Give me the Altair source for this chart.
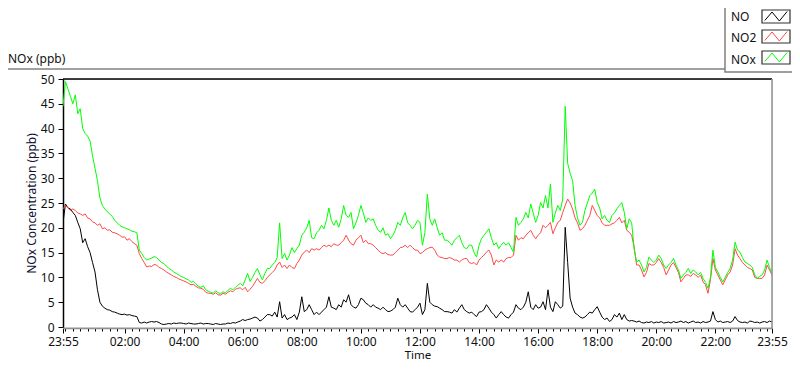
import altair as alt
import pandas as pd
import numpy as np

# ---------------- data (5-minute samples from 23:55 to 23:55) ----------------
step_minutes = 5

nox_vals = [
    44.5, 49.5, 48.0, 46.5, 45.0, 46.8, 43.0, 44.0, 40.0, 39.0, 38.5, 37.5,
    34.5, 32.0, 29.5, 26.0, 24.5, 23.8, 23.2, 22.8, 22.3, 21.5, 21.0, 20.5,
    20.2, 20.0, 19.8, 19.6, 19.3, 19.2, 19.0, 15.5, 14.8, 14.0, 13.5, 13.7,
    13.9, 14.2, 14.0, 13.5, 13.0, 12.8, 12.3, 11.8, 11.5, 11.1, 10.8, 10.5,
    10.2, 10.0, 9.7, 9.5, 9.0, 9.2, 8.7, 8.2, 8.0, 8.3, 7.5, 7.2,
    7.0, 6.8, 7.3, 6.9, 6.7, 7.1, 6.9, 7.4, 7.8, 7.5, 8.0, 8.4,
    8.8, 8.3, 9.5, 10.8, 9.2, 10.0, 11.0, 11.8, 10.5, 9.5, 10.8, 11.8,
    11.8, 12.5, 13.0, 14.0, 21.0, 13.8, 14.8, 13.5, 14.5, 16.0, 15.0, 15.8,
    16.5, 18.5, 19.1, 20.0, 21.5, 18.0, 17.8, 19.0, 19.5, 20.5, 19.8, 21.5,
    24.0, 21.5, 20.5, 21.5, 20.1, 21.8, 24.5, 22.5, 22.1, 23.1, 19.8, 21.0,
    22.5, 24.5, 23.0, 21.1, 22.0, 21.5, 21.8, 20.5, 19.5, 19.1, 20.0, 18.5,
    18.8, 17.8, 18.5, 19.5, 21.1, 20.5, 22.0, 23.1, 21.0, 20.5, 19.8, 20.5,
    21.5, 21.1, 16.5, 19.0, 26.8, 21.8, 20.5, 21.8, 20.0, 18.5, 19.0, 17.5,
    17.5, 17.0, 16.5, 17.5, 18.0, 18.5, 17.0, 16.0, 15.8, 16.5, 16.5, 15.0,
    14.1, 16.5, 17.8, 18.5, 19.1, 19.8, 18.0, 16.5, 17.0, 15.8, 16.5, 17.1,
    16.5, 17.0, 16.0, 15.1, 22.1, 20.5, 21.1, 21.8, 23.1, 22.0, 24.8, 23.0,
    21.1, 22.5, 25.1, 24.0, 26.5, 24.0, 28.8, 21.1, 23.0, 24.5, 23.5, 25.8,
    44.5, 33.0, 31.0, 29.5, 24.5, 22.0, 20.5, 21.1, 23.5, 25.0, 26.5, 27.0,
    27.8, 25.1, 24.0, 21.8, 22.5, 21.5, 21.1, 22.5, 23.0, 23.8, 24.5, 25.1,
    23.1, 19.8, 21.8, 21.0, 15.8, 13.1, 13.5, 12.5, 11.1, 12.0, 14.1, 13.5,
    13.0, 13.5, 14.5, 13.8, 12.5, 11.8, 12.5, 13.0, 13.8, 12.5, 11.5, 9.8,
    10.5, 11.0, 11.8, 10.8, 11.5, 11.1, 10.5, 11.0, 9.8, 9.0, 7.8, 10.0,
    15.5, 12.0, 11.1, 10.0, 9.1, 10.0, 11.0, 11.8, 13.5, 17.1, 15.5, 15.1,
    14.0, 13.1, 12.8, 12.5, 12.0, 10.5, 9.8, 10.2, 10.5, 11.5, 13.5, 12.0,
    10.8,
]

no2_vals = [
    23.8, 24.5, 24.0, 23.5, 23.8, 23.5, 23.0, 22.8, 22.5, 22.8, 22.0, 21.8,
    21.2, 21.0, 20.5, 20.8, 19.8, 20.0, 19.5, 19.6, 19.1, 19.0, 18.8, 18.5,
    18.1, 18.2, 17.5, 17.8, 17.2, 16.8, 16.5, 14.8, 13.8, 13.0, 12.1, 12.3,
    12.2, 12.6, 12.5, 12.0, 11.8, 11.5, 11.1, 10.8, 10.5, 10.2, 10.0, 9.7,
    9.5, 9.3, 9.1, 8.8, 8.5, 8.6, 8.2, 7.9, 7.8, 7.6, 7.0, 6.8,
    6.8, 6.6, 6.9, 6.5, 6.4, 6.8, 6.6, 7.0, 7.3, 7.1, 7.6, 7.8,
    7.9, 7.5, 8.0, 7.1, 7.6, 8.2, 9.0, 9.8, 9.0, 8.8, 9.3, 10.0,
    10.5, 11.0, 11.5, 12.5, 13.1, 12.0, 12.5, 11.8, 12.5, 12.0, 11.8, 12.8,
    13.5, 14.5, 15.1, 15.5, 15.0, 15.8, 15.5, 15.8, 15.5, 16.0, 16.5, 16.2,
    16.5, 16.2, 16.8, 16.5, 16.5, 17.0, 17.5, 18.5, 17.5, 16.8, 16.5, 17.5,
    18.0, 18.5, 17.0, 17.5, 16.8, 16.8, 16.5, 16.0, 15.5, 15.0, 14.8, 15.0,
    14.6, 14.5, 14.5, 15.0, 15.5, 16.0, 16.1, 16.5, 16.0, 16.5, 16.0, 15.5,
    15.5, 14.8, 15.0, 15.5, 15.8, 16.0, 16.1, 15.5, 14.5, 14.1, 14.0, 13.8,
    13.8, 14.0, 13.8, 13.5, 13.5, 13.1, 13.5, 13.8, 13.8, 13.0, 12.8, 13.0,
    12.5, 13.5, 14.0, 14.5, 15.1, 15.5, 14.5, 12.5, 13.5, 13.1, 13.5, 13.1,
    13.8, 14.0, 14.0, 14.5, 18.5, 17.5, 18.0, 17.8, 18.5, 19.0, 19.5, 18.5,
    17.8, 18.5, 19.0, 20.5, 20.0, 20.5, 21.1, 18.8, 20.0, 21.1, 21.5, 23.1,
    24.5, 25.8, 25.0, 23.8, 22.0, 21.0, 19.5, 19.8, 20.5, 21.5, 22.5, 24.5,
    23.5, 22.5, 22.0, 21.0, 20.5, 20.5, 20.5, 20.8, 21.0, 21.5, 22.1, 21.0,
    21.5, 19.5, 19.1, 18.5, 16.1, 12.5, 12.5, 11.5, 10.1, 11.0, 12.8, 12.5,
    12.5, 13.0, 13.8, 13.0, 12.0, 10.5, 11.5, 12.5, 13.0, 12.0, 11.0, 9.1,
    9.8, 10.5, 10.5, 10.2, 10.8, 10.5, 10.0, 10.5, 9.1, 8.5, 6.8, 9.5,
    13.8, 11.5, 10.5, 9.5, 8.5, 9.5, 10.5, 11.1, 12.5, 15.8, 14.5, 13.8,
    13.0, 12.5, 12.0, 11.8, 11.5, 10.0, 9.8, 9.8, 9.8, 10.5, 12.5, 11.5,
    10.5,
]

no_vals = [
    21.0, 24.8, 24.0, 23.8, 23.1, 22.5, 21.1, 19.8, 17.0, 17.8, 16.2, 15.0,
    13.0, 11.1, 7.5, 5.0, 4.2, 3.8, 3.5, 3.4, 3.1, 3.0, 2.8, 2.6,
    2.5, 2.6, 2.4, 2.5, 2.3, 2.2, 2.1, 0.9, 0.8, 1.0, 0.8, 1.0,
    1.1, 1.0, 1.1, 0.9, 0.6, 0.5, 0.6, 0.7, 0.6, 0.8, 0.7, 0.8,
    0.8, 0.7, 0.6, 0.8, 0.7, 0.6, 0.6, 0.7, 0.8, 0.6, 0.7, 0.7,
    0.6, 0.5, 0.7, 0.6, 0.5, 0.6, 0.6, 0.8, 0.7, 0.9, 0.8, 1.0,
    1.2, 1.5, 1.3, 1.5, 1.6, 1.8, 2.0, 1.8, 1.2, 1.5, 2.0, 2.5,
    2.5, 2.2, 3.0, 2.0, 5.1, 1.8, 2.5, 1.5, 1.8, 2.0, 2.5, 1.5,
    3.0, 6.1, 3.1, 3.5, 4.5, 3.5, 2.5, 3.0, 2.5, 3.0, 3.5, 4.0,
    6.1, 4.0, 3.8, 3.5, 4.5, 4.0, 5.5, 5.0, 6.5, 4.5, 4.0, 3.8,
    4.5, 5.8, 5.5, 4.8, 4.5, 4.0, 4.5, 4.0, 3.8, 3.5, 4.0, 3.5,
    3.1, 3.2, 3.5, 4.0, 5.8, 4.5, 4.0, 4.5, 3.8, 3.1, 3.0, 3.5,
    4.0, 4.8, 2.5, 3.5, 8.8, 5.0, 4.5, 4.2, 4.1, 3.8, 3.5, 3.1,
    3.1, 3.0, 2.8, 3.5, 3.0, 3.8, 4.5, 3.5, 3.1, 2.8, 3.0, 2.5,
    2.1, 3.0, 3.1, 3.5, 4.5, 3.8, 3.0, 2.5, 1.8, 2.5, 3.1, 2.5,
    2.0, 1.8, 2.5, 3.0, 4.5, 3.8, 3.5, 4.0, 5.0, 7.1, 4.0, 3.5,
    4.5, 3.8, 4.0, 5.1, 3.5, 7.5, 4.0, 3.1, 5.1, 4.5, 3.8, 4.2,
    20.1, 13.0, 5.8, 4.0, 2.8, 2.5, 2.0, 1.8, 2.0, 2.5, 3.0, 2.8,
    3.5, 4.1, 3.0, 2.0, 1.5, 1.8, 1.1, 1.5, 2.5, 2.0, 2.8, 1.5,
    2.5, 1.5, 1.2, 1.3, 1.2, 1.0, 1.2, 0.9, 0.8, 1.0, 0.9, 1.1,
    0.8, 1.0, 0.9, 1.1, 0.8, 0.9, 1.0, 0.8, 1.1, 0.9, 1.0, 1.2,
    0.9, 1.1, 0.8, 1.0, 1.2, 0.9, 1.0, 0.8, 1.1, 0.9, 1.0, 1.2,
    3.1, 1.5, 1.0, 1.2, 0.9, 1.0, 1.1, 0.9, 1.2, 2.1, 1.3, 1.0,
    0.9, 1.0, 0.8, 1.2, 1.1, 0.9, 1.0, 0.8, 1.0, 1.1, 0.9, 1.2,
    1.0,
]

series_names = ["NO", "NO2", "NOx"]
series_colors = ["#000000", "#ff4848", "#00ff00"]

x_tick_minutes = [0, 125, 245, 365, 485, 605, 725, 845, 965, 1085, 1205, 1325, 1440]
x_tick_labels = ["23:55", "02:00", "04:00", "06:00", "08:00", "10:00", "12:00",
                 "14:00", "16:00", "18:00", "20:00", "22:00", "23:55"]
y_ticks = [0, 5, 10, 15, 20, 25, 30, 35, 40, 45, 50]

chart_title = "NOx (ppb)"
y_title = "NOx Concentration (ppb)"
x_title = "Time"

# ---------------- build tables ----------------
minutes = np.arange(len(no_vals)) * step_minutes
frames = []
for name, vals in zip(series_names, [no_vals, no2_vals, nox_vals]):
    frames.append(pd.DataFrame({"minute": minutes, "value": vals, "series": name}))
df = pd.concat(frames, ignore_index=True)

# axis ticks: labelled majors plus 15-minute minor ticks
all_ticks = sorted(set(x_tick_minutes) | set(range(5, 1440, 15)))

W, H = 709, 248
FONT = "Noto Sans"

lab_arr = "[" + ",".join("'%s'" % s for s in x_tick_labels) + "]"
val_arr = "[" + ",".join(str(v) for v in x_tick_minutes) + "]"
label_expr = f"indexof({val_arr}, datum.value) >= 0 ? {lab_arr}[indexof({val_arr}, datum.value)] : ''"
major_test = f"indexof({val_arr}, datum.value) >= 0"

x_scale = alt.Scale(domain=[0, 1440], nice=False, zero=False)
y_scale = alt.Scale(domain=[0, 50], nice=False, zero=True)

lines = alt.Chart(df).mark_line(strokeWidth=1, clip=True).encode(
    x=alt.X("minute:Q", scale=x_scale,
            axis=alt.Axis(values=all_ticks, labelExpr=label_expr, title=x_title,
                          grid=False, offset=1,
                          tickSize={"condition": {"test": major_test, "value": 5}, "value": 3},
                          tickColor="#000000", labelOverlap=False,
                          domainColor="#909090", domainWidth=1.5, labelPadding=3,
                          labelFont=FONT, labelFontSize=12, labelColor="#101010",
                          labelFlush=False, titleFont=FONT, titleFontSize=11.5,
                          titleFontWeight="normal", titleColor="#101010",
                          titleBaseline="bottom", titleY=H - 248 + 32)),
    y=alt.Y("value:Q", scale=y_scale,
            axis=alt.Axis(values=y_ticks, title=y_title, grid=False, tickSize=5,
                          tickColor="#000000", domainColor="#000000", domainWidth=1.5,
                          labelPadding=4, labelFont=FONT, labelFontSize=12,
                          labelColor="#101010", titleFont=FONT, titleFontSize=12,
                          titleFontWeight="normal", titleColor="#101030",
                          titleBaseline="middle", titleX=-32, titleY=H / 2)),
    color=alt.Color("series:N", scale=alt.Scale(domain=series_names, range=series_colors),
                    legend=None),
    order=alt.Order("minute:Q"),
)

one = pd.DataFrame({"k": [0]})
top_border = alt.Chart(one).mark_rule(color="#000000", strokeWidth=1.5).encode(
    x=alt.value(0), x2=alt.value(W), y=alt.value(0))
right_border = alt.Chart(one).mark_rule(color="#909090", strokeWidth=1.5).encode(
    x=alt.value(W), y=alt.value(0), y2=alt.value(H + 1))

frame_line = alt.Chart(one).mark_rule(color="#808080", strokeWidth=1.5).encode(
    x=alt.value(-56), x2=alt.value(662), y=alt.value(-10))

title_text = alt.Chart(one).mark_text(
    text=chart_title, font=FONT, fontSize=12, align="left", baseline="alphabetic",
    color="#101010").encode(x=alt.value(-55), y=alt.value(-16))

legend_box = alt.Chart(one).mark_rect(fill="white", stroke="#808080", strokeWidth=1.5).encode(
    x=alt.value(662), x2=alt.value(730), y=alt.value(-75), y2=alt.value(-7))

zigzag = "M-1,0.35 L-0.35,-0.4 L0.3,0.4 L1,-0.45"
legend_layers = [legend_box]
row_baselines = [-58, -37, -15]
row_boxes = [(-69, -56), (-49, -36), (-28, -15)]
for name, color, base_y, (by0, by1) in zip(series_names, series_colors, row_baselines, row_boxes):
    legend_layers.append(alt.Chart(one).mark_text(
        text=name, font=FONT, fontSize=12, align="left", baseline="alphabetic",
        color="#101010").encode(x=alt.value(668), y=alt.value(base_y)))
    legend_layers.append(alt.Chart(one).mark_rect(fill="white", stroke="#303030", strokeWidth=1.2).encode(
        x=alt.value(699), x2=alt.value(727), y=alt.value(by0), y2=alt.value(by1)))
    legend_layers.append(alt.Chart(one).mark_point(
        shape=zigzag, filled=False, stroke=color, strokeWidth=1, size=500, opacity=1).encode(
        x=alt.value(713), y=alt.value((by0 + by1) / 2)))

chart = alt.layer(
    lines, top_border, right_border, frame_line, title_text, *legend_layers
).properties(
    width=W, height=H,
    autosize=alt.AutoSizeParams(type="none"),
    padding={"left": 55, "top": 71, "right": 20, "bottom": 353 - 71 - H},
).configure_view(stroke=None).configure(background="white")

chart.save("out.html", embed_options={"renderer": "svg", "actions": False})
